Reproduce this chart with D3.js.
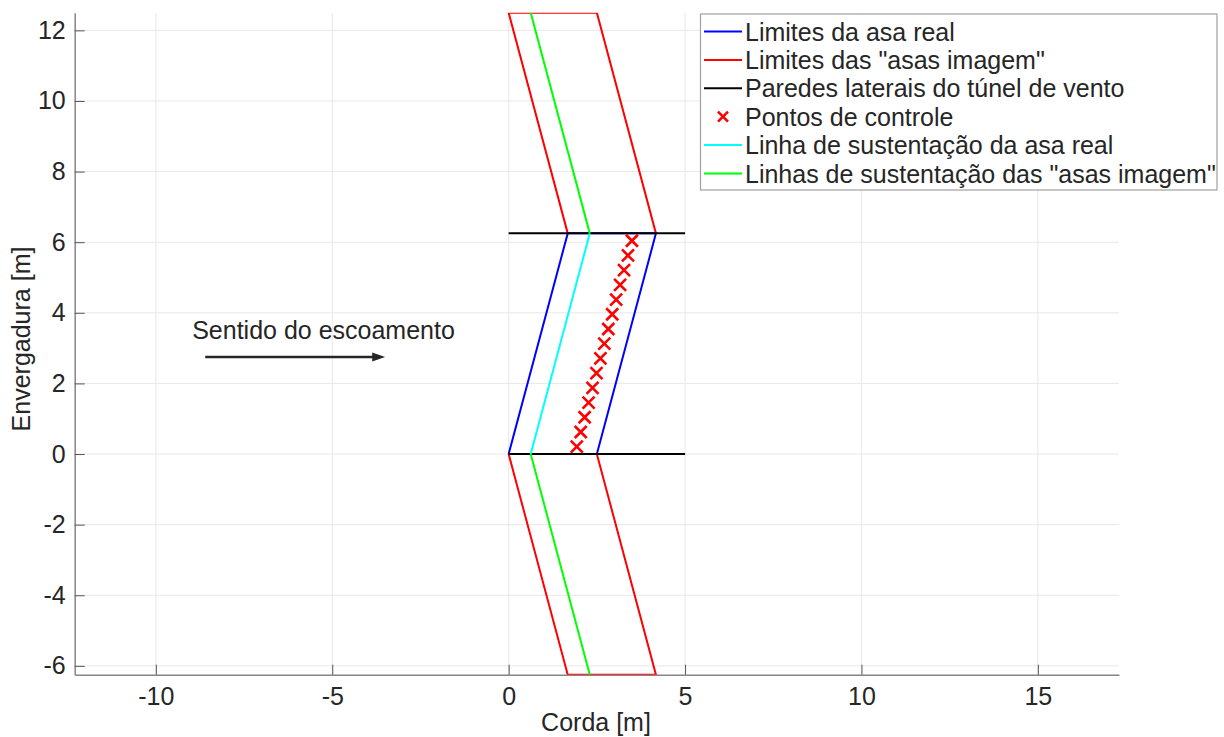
<!DOCTYPE html>
<html>
<head>
<meta charset="utf-8">
<script src="https://cdn.jsdelivr.net/npm/d3@7"></script>
<style>
  html, body { margin: 0; padding: 0; background: #fff; }
  svg { display: block; }
  text { font-family: "Liberation Sans", Arial, Helvetica, sans-serif; fill: #262626; }
</style>
</head>
<body>
<svg id="chart" width="1224" height="737"></svg>
<script>
// Axis ticks
const xTicks = [-10, -5, 0, 5, 10, 15];
const yTicks = [-6, -4, -2, 0, 2, 4, 6, 8, 10, 12];

// Real wing outline (leading edge, tip, trailing edge, root) [m]
const realWingX = [0, 1.675, 4.175, 2.5, 0];
const realWingY = [0, 6.25, 6.25, 0, 0];

// Image wings (reflected across the tunnel walls) [m]
const imageUpperX = [1.675, 0, 2.5, 4.175];
const imageUpperY = [6.25, 12.5, 12.5, 6.25];
const imageLowerX = [0, 1.675, 4.175, 2.5];
const imageLowerY = [0, -6.25, -6.25, 0];

// Tunnel side walls
const wallX = [0, 5];
const wallY = [0, 6.25];

// Control points (3/4 chord)
const ctrlX = [1.931, 2.043, 2.154, 2.266, 2.377, 2.489, 2.601, 2.712, 2.824, 2.936, 3.047, 3.159, 3.271, 3.382, 3.494];
const ctrlY = [0.208, 0.625, 1.042, 1.458, 1.875, 2.292, 2.708, 3.125, 3.542, 3.958, 4.375, 4.792, 5.208, 5.625, 6.042];

// Lifting line of the real wing (1/4 chord)
const liftRealX = [0.625, 2.3];
const liftRealY = [0, 6.25];

// Lifting lines of the image wings
const liftUpperX = [2.3, 0.625];
const liftUpperY = [6.25, 12.5];
const liftLowerX = [0.625, 2.3];
const liftLowerY = [0, -6.25];

// Flow direction annotation
const flowLabel = "Sentido do escoamento";
const flowTextX = -8.97, flowTextY = 3.5;
const flowArrowX = [-8.6, -3.5];
const flowArrowY = [2.75, 2.75];

const legendLabels = [
  "Limites da asa real",
  "Limites das \"asas imagem\"",
  "Paredes laterais do túnel de vento",
  "Pontos de controle",
  "Linha de sustentação da asa real",
  "Linhas de sustentação das \"asas imagem\""
];
const legendColors = ["#0000ff", "#ff0000", "#000000", "#ff0000", "#00ffff", "#00ff00"];

// ---- Layout ----
const FS = "25px";
const svg = d3.select("#chart");
const plot = { left: 74.7, right: 1119, top: 12.7, bottom: 674.7 };

const x = d3.scaleLinear().domain([-12.3, 17.3]).range([plot.left, plot.right]);
const y = d3.scaleLinear().domain([-6.25, 12.5]).range([plot.bottom, plot.top]);

svg.append("defs").append("clipPath").attr("id", "clip")
  .append("rect")
  .attr("x", plot.left).attr("y", plot.top)
  .attr("width", plot.right - plot.left).attr("height", plot.bottom - plot.top);

// Grid
const grid = svg.append("g");
grid.selectAll(".gx").data(xTicks).join("line")
  .attr("x1", d => x(d)).attr("x2", d => x(d))
  .attr("y1", plot.top).attr("y2", plot.bottom)
  .attr("stroke", "#e8e8e8").attr("stroke-width", 1);
grid.selectAll(".gy").data(yTicks).join("line")
  .attr("y1", d => y(d)).attr("y2", d => y(d))
  .attr("x1", plot.left).attr("x2", plot.right)
  .attr("stroke", "#e8e8e8").attr("stroke-width", 1);

// Axes (plain hyphen for negative numbers)
const fmt = d => String(d);
const xAxis = svg.append("g")
  .attr("transform", `translate(0,${plot.bottom})`)
  .call(d3.axisBottom(x).tickValues(xTicks).tickFormat(fmt).tickSize(-10).tickPadding(13).tickSizeOuter(0));
const yAxis = svg.append("g")
  .attr("transform", `translate(${plot.left},0)`)
  .call(d3.axisLeft(y).tickValues(yTicks).tickFormat(fmt).tickSize(-10).tickPadding(9).tickSizeOuter(0));
[xAxis, yAxis].forEach(ax => {
  ax.select(".domain").attr("stroke", "#858585").attr("stroke-width", 1.5);
  ax.selectAll(".tick line").attr("stroke", "#555").attr("stroke-width", 1);
  ax.selectAll(".tick text")
    .style("font-family", "'Liberation Sans', Arial, sans-serif")
    .style("font-size", FS).attr("fill", "#262626");
});

// Axis labels
svg.append("text")
  .attr("x", 596).attr("y", 731)
  .attr("text-anchor", "middle").style("font-size", FS)
  .text("Corda [m]");
svg.append("text")
  .attr("transform", `translate(30,339) rotate(-90)`)
  .attr("text-anchor", "middle").style("font-size", FS)
  .text("Envergadura [m]");

// Data layer
const layer = svg.append("g").attr("clip-path", "url(#clip)");
const line = d3.line().x(d => x(d[0])).y(d => y(d[1]));
const zip = (xs, ys) => xs.map((v, i) => [v, ys[i]]);

function drawPath(xs, ys, color) {
  layer.append("path")
    .attr("d", line(zip(xs, ys)))
    .attr("fill", "none").attr("stroke", color)
    .attr("stroke-width", 2).attr("stroke-linejoin", "miter");
}

drawPath(realWingX, realWingY, legendColors[0]);
drawPath(imageUpperX, imageUpperY, legendColors[1]);
drawPath(imageLowerX, imageLowerY, legendColors[1]);
wallY.forEach(w => drawPath(wallX, [w, w], legendColors[2]));

// Control point markers
const mk = 6;
const markers = layer.append("g");
zip(ctrlX, ctrlY).forEach(p => {
  const cx = x(p[0]), cy = y(p[1]);
  markers.append("path")
    .attr("d", `M${cx - mk},${cy - mk}L${cx + mk},${cy + mk}M${cx - mk},${cy + mk}L${cx + mk},${cy - mk}`)
    .attr("stroke", legendColors[3]).attr("stroke-width", 2.6).attr("fill", "none");
});

drawPath(liftRealX, liftRealY, legendColors[4]);
drawPath(liftUpperX, liftUpperY, legendColors[5]);
drawPath(liftLowerX, liftLowerY, legendColors[5]);

// Flow annotation
svg.append("text")
  .attr("x", x(flowTextX)).attr("y", y(flowTextY))
  .attr("dominant-baseline", "central")
  .style("font-size", FS)
  .text(flowLabel);
const ax0 = x(flowArrowX[0]), ax1 = x(flowArrowX[1]), ay = y(flowArrowY[0]);
svg.append("line")
  .attr("x1", ax0).attr("x2", ax1 - 10).attr("y1", ay).attr("y2", ay)
  .attr("stroke", "#262626").attr("stroke-width", 2.5);
svg.append("path")
  .attr("d", `M${ax1},${ay}L${ax1 - 13},${ay - 4.5}L${ax1 - 13},${ay + 4.5}Z`)
  .attr("fill", "#262626");

// Legend
const lg = svg.append("g");
const lgBox = { x: 700.5, y: 14, w: 516.5, h: 176 };
lg.append("rect")
  .attr("x", lgBox.x).attr("y", lgBox.y).attr("width", lgBox.w).attr("height", lgBox.h)
  .attr("fill", "#fff").attr("stroke", "#a0a0a0").attr("stroke-width", 1.2);
const rowY = i => 31.5 + i * 28.4;
legendLabels.forEach((lab, i) => {
  const ry = rowY(i);
  if (i === 3) {
    const cx = 723;
    lg.append("path")
      .attr("d", `M${cx - 5},${ry - 5}L${cx + 5},${ry + 5}M${cx - 5},${ry + 5}L${cx + 5},${ry - 5}`)
      .attr("stroke", legendColors[i]).attr("stroke-width", 2.6);
  } else {
    lg.append("line")
      .attr("x1", 704).attr("x2", 742).attr("y1", ry).attr("y2", ry)
      .attr("stroke", legendColors[i]).attr("stroke-width", 2);
  }
  lg.append("text")
    .attr("x", 745).attr("y", ry)
    .attr("dominant-baseline", "central")
    .style("font-size", FS)
    .text(lab);
});
</script>
</body>
</html>
